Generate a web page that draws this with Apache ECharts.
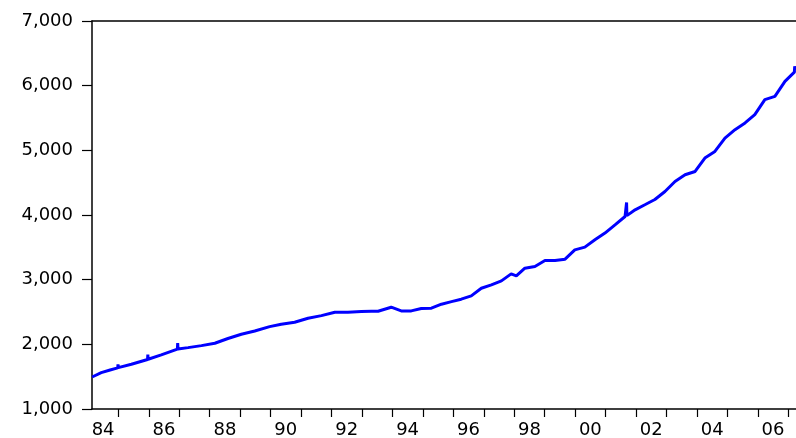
<!DOCTYPE html>
<html>
<head>
<meta charset="utf-8">
<script src="https://cdn.jsdelivr.net/npm/echarts@6/dist/echarts.min.js"></script>
<style>
html,body{margin:0;padding:0;background:#fff;}
#chart{width:796px;height:438px;}
</style>
</head>
<body>
<div id="chart"></div>
<script>
// Decimal-year positions of the readings
const years = [
  1984.14, 1984.44, 1984.73, 1984.98, 1984.99, 1985.00, 1985.43, 1985.96, 1985.97, 1985.98, 1986.41,
  1986.94, 1986.95, 1986.96, 1987.29, 1987.73, 1988.17, 1988.60, 1989.04, 1989.48, 1989.97,
  1990.35, 1990.79, 1991.23, 1991.67, 1992.11, 1992.54, 1992.98, 1993.31, 1993.53,
  1993.96, 1994.29, 1994.62, 1994.95, 1995.28, 1995.61, 1995.94, 1996.26, 1996.59,
  1996.92, 1997.25, 1997.58, 1997.90, 1998.07, 1998.35, 1998.68, 1999.01, 1999.34,
  1999.67, 1999.99, 2000.32, 2000.65, 2000.98, 2001.31, 2001.64, 2001.68, 2001.69, 2001.70,
  2001.97, 2002.29, 2002.62, 2002.95, 2003.28, 2003.61, 2003.94, 2004.26, 2004.59,
  2004.92, 2005.25, 2005.58, 2005.90, 2006.23, 2006.56, 2006.89, 2007.20, 2007.21, 2007.25
];
// Series values
const values = [
  1495, 1562, 1604, 1636, 1690, 1640, 1692, 1765, 1840, 1769, 1836,
  1925, 2020, 1929, 1949, 1980, 2017, 2090, 2156, 2207, 2274,
  2311, 2342, 2404, 2444, 2497, 2497, 2506, 2512, 2512,
  2574, 2517, 2517, 2553, 2559, 2621, 2661, 2698, 2749,
  2868, 2920, 2981, 3090, 3059, 3178, 3203, 3296, 3296,
  3317, 3461, 3503, 3616, 3720, 3848, 3977, 3985, 4194, 3990,
  4080, 4158, 4240, 4364, 4519, 4622, 4673, 4881, 4983,
  5190, 5319, 5423, 5551, 5783, 5835, 6067, 6210, 6300, 6230
];
// Axis tick labels
const yearLabels = ['84','86','88','90','92','94','96','98','00','02','04','06'];
const labelYears = [1984,1986,1988,1990,1992,1994,1996,1998,2000,2002,2004,2006];
const tickYears = [1985,1986,1987,1988,1989,1990,1991,1992,1993,1994,1995,1996,1997,1998,1999,2000,2001,2002,2003,2004,2005,2006,2007];

const data = years.map((y, i) => [y, values[i]]);
const labelPos = labelYears.map(y => y + 0.5);

const font = 'DejaVu Sans';
const chart = echarts.init(document.getElementById('chart'));
chart.setOption({
  animation: false,
  backgroundColor: '#ffffff',
  grid: { left: 92, right: 0, top: 21, bottom: 29, containLabel: false, outerBoundsMode: 'none' },
  xAxis: [{
    type: 'value',
    min: 1984.136,
    max: 2007.253,
    splitLine: { show: false },
    axisLine: { show: true, onZero: false, lineStyle: { color: '#000', width: 1.5 } },
    axisTick: { show: true, inside: false, length: 8, customValues: tickYears, lineStyle: { color: '#000', width: 1.2 } },
    axisLabel: {
      show: true,
      customValues: labelPos,
      margin: 12,
      color: '#000',
      fontFamily: font,
      fontSize: 18,
      formatter: function (v) {
        const idx = labelPos.findIndex(p => Math.abs(p - v) < 0.01);
        return idx >= 0 ? yearLabels[idx] : '';
      }
    }
  }, {
    type: 'value',
    position: 'top',
    min: 1984.136,
    max: 2007.253,
    splitLine: { show: false },
    axisLine: { show: true, onZero: false, lineStyle: { color: '#000', width: 1.5 } },
    axisTick: { show: false },
    axisLabel: { show: false }
  }],
  yAxis: {
    type: 'value',
    min: 1000,
    max: 7000,
    interval: 1000,
    splitLine: { show: false },
    axisLine: { show: true, onZero: false, lineStyle: { color: '#000', width: 1.5 } },
    axisTick: { show: true, inside: false, length: 10, lineStyle: { color: '#000', width: 1.2 } },
    axisLabel: {
      margin: 19,
      color: '#000',
      fontFamily: font,
      fontSize: 18,
      formatter: v => v.toLocaleString('en-US')
    }
  },
  series: [{
    type: 'line',
    xAxisIndex: 0,
    data: data,
    showSymbol: false,
    symbol: 'none',
    lineStyle: { color: '#0000ff', width: 3 },
    clip: true
  }]
});
</script>
</body>
</html>
